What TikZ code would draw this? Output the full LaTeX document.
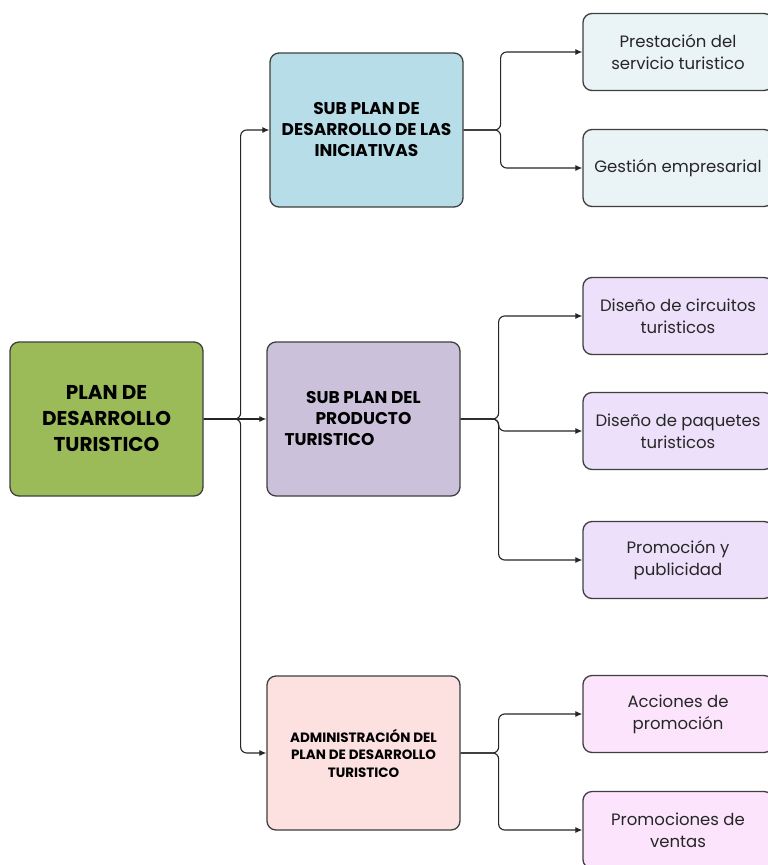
\documentclass[tikz,border=0pt]{standalone}
\usepackage{fontspec}
\setmainfont{Poppins}
\usetikzlibrary{arrows.meta}

\definecolor{boxline}{HTML}{3F3F3F}
\definecolor{plangreen}{HTML}{9BBB59}
\definecolor{iniblue}{HTML}{B7DDE8}
\definecolor{prodlilac}{HTML}{CCC1DA}
\definecolor{adminrose}{HTML}{FCE1E0}
\definecolor{leafblue}{HTML}{EAF3F6}
\definecolor{leaflilac}{HTML}{EDE0FA}
\definecolor{leafpink}{HTML}{FCE4FC}

\begin{document}
\begin{tikzpicture}[x=1pt, y=-1pt,
    box/.style={draw=boxline, line width=1.3pt, rounded corners=9pt,
        minimum width=193pt, minimum height=154pt, align=center, inner sep=2pt},
    leaf/.style={draw=boxline, line width=1.3pt, rounded corners=9pt,
        minimum width=190pt, minimum height=77pt, align=center, inner sep=2pt,
        font=\fontsize{16.5}{22}\selectfont, text=black!85},
    link/.style={line width=1.1pt, draw=black!85, rounded corners=6pt,
        -{Latex[length=7pt, width=6pt]}}]
    \useasboundingbox (0,0) rectangle (768,865);
    \clip (0,0) rectangle (768,865);
    \fill[white] (0,0) rectangle (768,865);
    %
    % main plan and its three sub plans
    \node[box, fill=plangreen, font=\bfseries\fontsize{20}{26}\selectfont] (plan) at (106.5,419) {PLAN DE\\DESARROLLO\\TURISTICO};
    \node[box, fill=iniblue, font=\bfseries\fontsize{17}{21}\selectfont] (subini) at (366.5,130) {SUB PLAN DE\\DESARROLLO DE LAS\\INICIATIVAS};
    \node[box, fill=prodlilac, font=\bfseries\fontsize{17}{21}\selectfont] (subprod) at (363.5,419) {SUB PLAN DEL\\PRODUCTO\\TURISTICO\hspace*{4em}};
    \node[box, fill=adminrose, font=\bfseries\fontsize{13.5}{17.5}\selectfont] (subadmin) at (363.5,753) {ADMINISTRACIÓN DEL\\PLAN DE DESARROLLO\\TURISTICO};
    %
    % leaves
    \node[leaf, fill=leafblue] (prest) at (678,52) {Prestación del\\servicio turistico};
    \node[leaf, fill=leafblue] (gest) at (678,168) {Gestión empresarial};
    \node[leaf, fill=leaflilac] (circ) at (678,316) {Diseño de circuitos\\turisticos};
    \node[leaf, fill=leaflilac] (paq) at (678,431) {Diseño de paquetes\\turisticos};
    \node[leaf, fill=leaflilac] (promo) at (678,560) {Promoción y\\publicidad};
    \node[leaf, fill=leafpink] (acc) at (678,714) {Acciones de\\promoción};
    \node[leaf, fill=leafpink] (ventas) at (678,830) {Promociones de\\ventas};
    %
    % connectors
    \draw[link] (plan.east) -- ++(37,0) |- (subini.west);
    \draw[link] (plan.east) -- (subprod.west);
    \draw[link] (plan.east) -- ++(37,0) |- (subadmin.west);
    %
    \draw[link] (subini.east) -- ++(37,0) |- (prest.west);
    \draw[link] (subini.east) -- ++(37,0) |- (gest.west);
    %
    \draw[link] (subprod.east) -- ++(38,0) |- (circ.west);
    \draw[link] (subprod.east) -- ++(38,0) |- (paq.west);
    \draw[link] (subprod.east) -- ++(38,0) |- (promo.west);
    %
    \draw[link] (subadmin.east) -- ++(38,0) |- (acc.west);
    \draw[link] (subadmin.east) -- ++(38,0) |- (ventas.west);
\end{tikzpicture}
\end{document}
